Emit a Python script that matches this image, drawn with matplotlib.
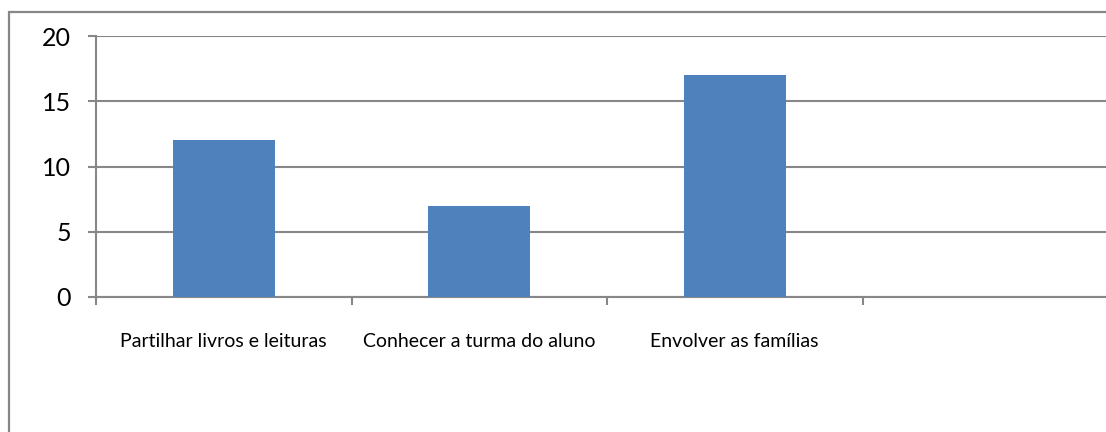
import matplotlib
matplotlib.use("Agg")
import matplotlib.pyplot as plt
from matplotlib.patches import Rectangle

categories = ["Partilhar livros e leituras", "Conhecer a turma do aluno", "Envolver as famílias", ""]
values = [12, 7, 17, 0]
yticks = [0, 5, 10, 15, 20]

W, H = 1106, 432
fig = plt.figure(figsize=(W / 100, H / 100), dpi=100)
plt.rcParams['font.family'] = ['Lato', 'DejaVu Sans']

gray = "#878787"
# outer chart border (clipped by image at right/bottom)
fig.patches.append(Rectangle((9 / W, -0.1), 1.2, (432 - 12) / H + 0.1, transform=fig.transFigure,
                             fill=False, edgecolor=gray, linewidth=1.6))

ax = fig.add_axes([96 / W, (432 - 297) / H, (4 * 255.5) / W, 261 / H])
x = list(range(len(categories)))
ax.bar(x, values, width=0.4, color="#4F81BD", zorder=3)
ax.set_xlim(-0.5, 3.5)
ax.set_ylim(0, 20)
ax.set_yticks(yticks)
ax.set_yticklabels([str(v) for v in yticks], fontsize=18)
ax.yaxis.grid(True, color=gray, linewidth=1.5, zorder=0)
ax.set_xticks(x)
ax.set_xticklabels(categories, fontsize=14)
ax.set_xticks([-0.5, 0.5, 1.5, 2.5, 3.5], minor=True)
ax.tick_params(axis='x', which='major', length=0, pad=26)
ax.tick_params(axis='x', which='minor', length=6, color=gray, width=1.5)
ax.tick_params(axis='y', length=6, color=gray, width=1.5, pad=12)
for s in ["top", "right"]:
    ax.spines[s].set_visible(False)
for s in ["left", "bottom"]:
    ax.spines[s].set_color(gray)
    ax.spines[s].set_linewidth(1.5)

fig.savefig("out.png", dpi=100)
